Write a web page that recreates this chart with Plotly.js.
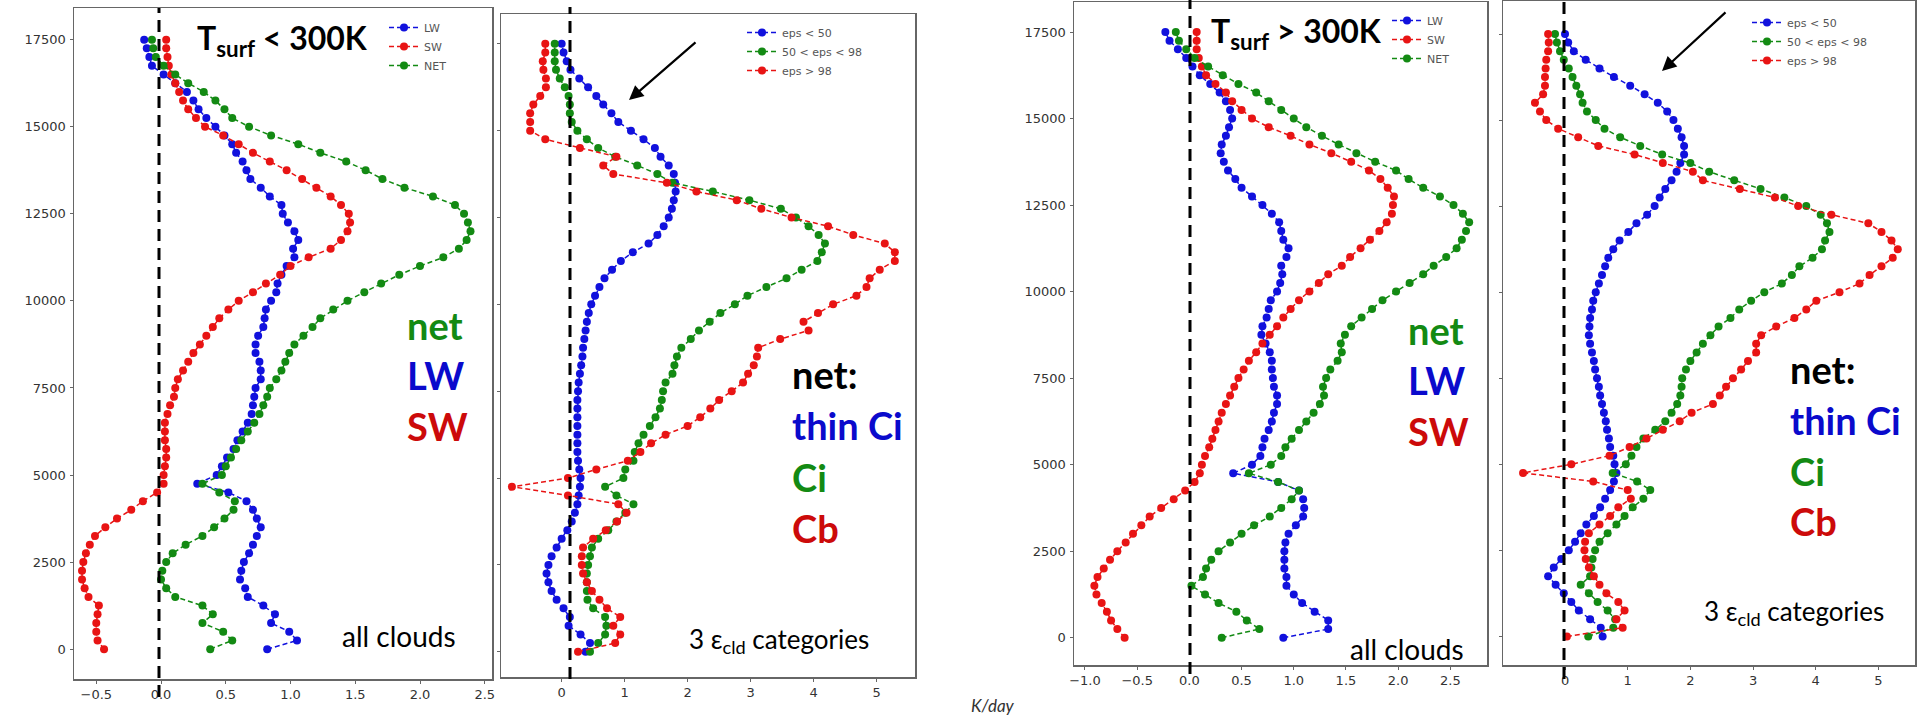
<!DOCTYPE html>
<html><head><meta charset="utf-8">
<script src="https://cdn.plot.ly/plotly-3.0.1.min.js"></script>
<style>html,body{margin:0;padding:0;background:#fff;} #chart{width:1917px;height:720px;}</style>
</head><body><div id="chart"></div>
<script>
// heights (m)
const heights = [0,250,500,750,1000,1250,1500,1750,2000,2250,
 2500,2750,3000,3250,3500,3750,4000,4250,4500,4750,
 5000,5250,5500,5750,6000,6250,6500,6750,7000,7250,
 7500,7750,8000,8250,8500,8750,9000,9250,9500,9750,
 10000,10250,10500,10750,11000,11250,11500,11750,12000,12250,
 12500,12750,13000,13250,13500,13750,14000,14250,14500,14750,
 15000,15250,15500,15750,16000,16250,16500,16750,17000,17250,
 17500];

// Panel 1: Tsurf < 300K, all clouds (K/day)
const lwCold = [0.82,1.05,0.99,0.85,0.88,0.79,0.67,0.65,0.61,0.62,
 0.64,0.68,0.71,0.74,0.77,0.74,0.71,0.66,0.52,0.28,
 0.43,0.47,0.51,0.56,0.59,0.63,0.67,0.70,0.71,0.72,
 0.73,0.77,0.77,0.76,0.73,0.73,0.75,0.79,0.80,0.81,
 0.85,0.89,0.90,0.93,0.97,1.03,1.02,1.06,1.03,0.98,
 0.94,0.93,0.84,0.77,0.69,0.66,0.63,0.58,0.55,0.49,
 0.42,0.35,0.29,0.25,0.20,0.11,0.02,-0.07,-0.09,-0.11,
 -0.13];
const swCold = [-0.44,-0.49,-0.50,-0.50,-0.49,-0.48,-0.56,-0.59,-0.61,-0.61,
 -0.60,-0.58,-0.55,-0.51,-0.43,-0.34,-0.23,-0.14,-0.03,0.02,
 0.02,0.03,0.04,0.04,0.03,0.03,0.03,0.05,0.07,0.10,
 0.11,0.13,0.17,0.21,0.25,0.30,0.35,0.40,0.45,0.52,
 0.60,0.71,0.81,0.92,1.00,1.14,1.31,1.39,1.44,1.46,
 1.45,1.39,1.31,1.20,1.09,0.97,0.84,0.71,0.60,0.48,
 0.34,0.27,0.21,0.17,0.14,0.11,0.08,0.06,0.05,0.04,
 0.04];
const netCold = [0.38,0.55,0.48,0.32,0.40,0.32,0.11,0.04,0.00,0.01,
 0.04,0.09,0.19,0.32,0.41,0.49,0.56,0.57,0.45,0.32,
 0.47,0.50,0.54,0.58,0.62,0.67,0.72,0.76,0.79,0.82,
 0.84,0.89,0.93,0.96,0.99,1.03,1.10,1.17,1.23,1.33,
 1.44,1.57,1.70,1.84,2.00,2.18,2.30,2.36,2.39,2.37,
 2.34,2.27,2.10,1.88,1.71,1.58,1.43,1.23,1.06,0.85,
 0.68,0.55,0.49,0.42,0.33,0.21,0.11,0.02,-0.04,-0.06,
 -0.07];

// Panel 2: Tsurf < 300K, net by emissivity class
const thinCiCold = [0.38,0.45,0.30,0.11,0.13,0.03,-0.08,-0.16,-0.21,-0.24,
 -0.21,-0.16,-0.08,0.00,0.09,0.16,0.21,0.25,0.27,0.29,
 0.30,0.28,0.26,0.25,0.25,0.25,0.25,0.25,0.25,0.25,
 0.26,0.27,0.29,0.31,0.33,0.34,0.36,0.38,0.40,0.43,
 0.47,0.53,0.60,0.68,0.80,0.94,1.13,1.38,1.52,1.62,
 1.70,1.75,1.78,1.81,1.80,1.78,1.70,1.57,1.48,1.30,
 1.10,0.90,0.79,0.66,0.55,0.42,0.28,0.14,0.08,0.03,
 0.00];
const ciCold = [0.45,0.58,0.69,0.71,0.69,0.50,0.41,0.40,0.40,0.40,
 0.42,0.45,0.48,0.58,0.74,0.87,1.01,1.14,0.87,0.69,
 0.98,1.01,1.14,1.16,1.22,1.30,1.40,1.49,1.56,1.59,
 1.61,1.65,1.76,1.79,1.83,1.90,2.05,2.18,2.35,2.52,
 2.75,2.95,3.25,3.57,3.81,4.06,4.13,4.18,4.08,3.92,
 3.72,3.48,2.98,2.40,1.76,1.52,1.20,0.85,0.58,0.40,
 0.25,0.16,0.13,0.13,0.11,0.05,-0.03,-0.09,-0.11,-0.11,
 -0.11];
const cbCold = [0.26,0.85,0.93,0.82,0.93,0.72,0.60,0.48,0.40,0.34,
 0.32,0.32,0.34,0.50,0.70,0.88,1.03,0.90,0.10,-0.79,
 0.10,0.55,1.05,1.25,1.42,1.65,2.00,2.20,2.36,2.50,
 2.70,2.88,2.96,3.05,3.10,3.12,3.47,3.92,3.84,4.07,
 4.31,4.68,4.84,4.89,5.05,5.29,5.29,5.13,4.63,4.23,
 3.65,3.17,2.78,2.14,1.67,0.82,0.66,0.87,0.29,-0.26,
 -0.50,-0.50,-0.50,-0.45,-0.34,-0.25,-0.25,-0.29,-0.30,-0.26,
 -0.26];

// Panel 3: Tsurf > 300K, all clouds
const lwWarm = [0.90,1.33,1.33,1.20,1.08,1.00,0.93,0.93,0.91,0.91,
 0.91,0.92,0.95,1.02,1.09,1.10,1.09,1.05,0.85,0.42,
 0.60,0.68,0.70,0.72,0.76,0.79,0.81,0.84,0.84,0.81,
 0.80,0.79,0.79,0.77,0.73,0.69,0.70,0.74,0.76,0.78,
 0.84,0.87,0.89,0.88,0.93,0.95,0.90,0.88,0.86,0.79,
 0.70,0.60,0.50,0.44,0.37,0.33,0.30,0.31,0.35,0.38,
 0.41,0.39,0.35,0.29,0.20,0.10,0.03,-0.03,-0.11,-0.19,
 -0.23];
const swWarm = [-0.62,-0.69,-0.75,-0.79,-0.84,-0.89,-0.91,-0.88,-0.82,-0.76,
 -0.69,-0.61,-0.54,-0.46,-0.38,-0.27,-0.15,-0.04,0.05,0.10,
 0.12,0.15,0.19,0.22,0.25,0.28,0.31,0.35,0.39,0.43,
 0.47,0.52,0.57,0.64,0.70,0.77,0.84,0.90,0.97,1.05,
 1.15,1.24,1.33,1.46,1.54,1.64,1.73,1.82,1.89,1.94,
 1.95,1.96,1.90,1.83,1.72,1.55,1.36,1.15,0.97,0.76,
 0.60,0.50,0.41,0.35,0.25,0.16,0.12,0.09,0.07,0.07,
 0.07];
const netWarm = [0.31,0.67,0.55,0.45,0.28,0.15,0.02,0.13,0.16,0.21,
 0.28,0.39,0.50,0.62,0.77,0.88,0.98,1.05,0.85,0.57,
 0.78,0.88,0.92,0.98,1.05,1.12,1.19,1.25,1.29,1.28,
 1.31,1.35,1.42,1.46,1.45,1.49,1.55,1.65,1.75,1.85,
 1.98,2.11,2.24,2.34,2.46,2.56,2.61,2.65,2.68,2.62,
 2.53,2.40,2.24,2.10,1.98,1.78,1.60,1.43,1.27,1.12,
 1.00,0.88,0.76,0.64,0.47,0.32,0.18,0.05,-0.03,-0.10,
 -0.13];

// Panel 4: Tsurf > 300K, net by emissivity class
const thinCiWarm = [0.60,0.57,0.40,0.22,0.10,-0.02,-0.15,-0.27,-0.18,-0.06,
 0.06,0.16,0.25,0.34,0.46,0.56,0.64,0.72,0.78,0.82,
 0.79,0.77,0.72,0.70,0.67,0.65,0.62,0.59,0.56,0.54,
 0.51,0.48,0.46,0.43,0.40,0.38,0.39,0.40,0.43,0.45,
 0.49,0.54,0.59,0.64,0.69,0.77,0.87,1.01,1.14,1.31,
 1.43,1.51,1.60,1.70,1.78,1.84,1.90,1.90,1.86,1.80,
 1.73,1.63,1.48,1.27,1.04,0.78,0.55,0.33,0.14,0.05,
 0.00];
const ciWarm = [0.37,0.77,0.80,0.68,0.52,0.38,0.25,0.40,0.42,0.44,
 0.48,0.55,0.68,0.82,0.95,1.08,1.25,1.36,1.15,0.76,
 0.97,1.06,1.14,1.25,1.44,1.60,1.70,1.79,1.84,1.86,
 1.87,1.93,2.00,2.10,2.20,2.32,2.45,2.64,2.78,2.97,
 3.18,3.46,3.62,3.74,3.95,4.10,4.15,4.22,4.18,4.08,
 3.85,3.50,3.12,2.70,2.30,2.00,1.55,1.20,0.88,0.63,
 0.49,0.35,0.28,0.24,0.18,0.12,0.06,-0.02,-0.08,-0.13,
 -0.16];
const cbWarm = [0.03,0.92,0.82,0.95,0.85,0.66,0.55,0.46,0.38,0.33,
 0.31,0.32,0.38,0.55,0.72,0.85,1.05,1.00,0.45,-0.67,
 0.10,0.71,1.03,1.30,1.56,1.83,2.02,2.36,2.47,2.57,
 2.68,2.81,2.92,3.05,3.05,3.13,3.37,3.66,3.85,4.01,
 4.38,4.70,4.86,5.05,5.23,5.31,5.21,5.05,4.84,4.25,
 3.72,3.35,2.79,2.20,2.04,1.56,1.11,0.53,0.21,-0.11,
 -0.30,-0.40,-0.48,-0.35,-0.32,-0.32,-0.31,-0.30,-0.27,-0.26,
 -0.27];

const names13 = ['LW','SW','NET'];
const names24 = ['eps &lt; 50','50 &lt; eps &lt; 98','eps &gt; 98'];

const BLUE = '#1111dd', RED = '#e81414', GREEN = '#138a13';
const W = 1917, H = 720;
const px = v => v / W;
const py = v => 1 - v / H;

function tr(x, name, color, ax, lg) {
  return {
    type: 'scatter', mode: 'lines+markers', x: x, y: heights, name: name,
    xaxis: 'x' + ax, yaxis: 'y' + ax, legend: lg,
    line: {color: color, width: 1.5, dash: '5px,3px'},
    marker: {color: color, size: 8}
  };
}
const data = [
  tr(lwCold, names13[0], BLUE, '', 'legend'),
  tr(swCold, names13[1], RED, '', 'legend'),
  tr(netCold, names13[2], GREEN, '', 'legend'),
  tr(thinCiCold, names24[0], BLUE, '2', 'legend2'),
  tr(ciCold, names24[1], GREEN, '2', 'legend2'),
  tr(cbCold, names24[2], RED, '2', 'legend2'),
  tr(lwWarm, names13[0], BLUE, '3', 'legend3'),
  tr(swWarm, names13[1], RED, '3', 'legend3'),
  tr(netWarm, names13[2], GREEN, '3', 'legend3'),
  tr(thinCiWarm, names24[0], BLUE, '4', 'legend4'),
  tr(ciWarm, names24[1], GREEN, '4', 'legend4'),
  tr(cbWarm, names24[2], RED, '4', 'legend4')
];

const tickFont = {family: 'DejaVu Sans', size: 13, color: '#333'};
function xax(dom, range, anchor, dtick, fmt) {
  return {domain: dom, range: range, anchor: anchor, dtick: dtick, tick0: 0, tickformat: fmt,
    showline: true, mirror: true, linecolor: '#666', linewidth: 1.5,
    ticks: 'outside', ticklen: 3, tickcolor: '#666', showgrid: false, zeroline: false,
    tickfont: tickFont, fixedrange: true};
}
function yax(dom, range, anchor, labels) {
  return {domain: dom, range: range, anchor: anchor, dtick: 2500, tick0: 0, tickformat: 'd',
    showline: true, mirror: true, linecolor: '#666', linewidth: 1.5,
    ticks: 'outside', ticklen: 3, tickcolor: '#666', showgrid: false, zeroline: false,
    showticklabels: labels, ticklabelstandoff: 1, tickfont: tickFont, fixedrange: true};
}
function leg(x, y) {
  return {x: px(x), y: py(y), xanchor: 'left', yanchor: 'top', bgcolor: 'rgba(0,0,0,0)',
    font: {family: 'DejaVu Sans', size: 11, color: '#555'}, tracegroupgap: 0, itemwidth: 30};
}
const bigFont = (c, s) => ({family: 'Lato', size: s || 38, color: c});
function txt(t, x, y, font, xa) {
  return {text: t, x: px(x), y: py(y), xref: 'paper', yref: 'paper', showarrow: false,
    xanchor: xa || 'left', yanchor: 'middle', font: font};
}
function arrow(hx, hy, tx, ty) {
  return {text: '', x: px(hx), y: py(hy), xref: 'paper', yref: 'paper', showarrow: true,
    ax: tx - hx, ay: ty - hy, axref: 'pixel', ayref: 'pixel', arrowhead: 2, arrowsize: 1.3,
    arrowwidth: 2.2, arrowcolor: '#000', standoff: 0};
}
function vdash(x, y0, y1) {
  return {type: 'line', xref: 'paper', yref: 'paper', x0: px(x), x1: px(x), y0: py(y1), y1: py(y0),
    line: {color: '#000', width: 3, dash: '12px,7px'}, layer: 'above'};
}

const layout = {
  width: W, height: H, margin: {l: 0, r: 0, t: 0, b: 0},
  paper_bgcolor: '#fff', plot_bgcolor: '#fff', showlegend: true,
  xaxis: xax([px(74), px(492)], [-0.672, 2.556], 'y', 0.5, '.1f'),
  yaxis: yax([py(679), py(8)], [-857, 18409], 'x', true),
  xaxis2: xax([px(501), px(915)], [-0.963, 5.61], 'y2', 1, 'd'),
  yaxis2: yax([py(677), py(14)], [-726, 18358], 'x2', false),
  xaxis3: xax([px(1074), px(1487)], [-1.105, 2.851], 'y3', 0.5, '.1f'),
  yaxis3: yax([py(665), py(2)], [-789, 18367], 'x3', true),
  xaxis4: xax([px(1503), px(1915)], [-0.99, 5.585], 'y4', 1, 'd'),
  yaxis4: yax([py(665), py(1)], [-831, 18459], 'x4', false),
  legend: leg(384, 13),
  legend2: leg(742, 18),
  legend3: leg(1387, 6),
  legend4: leg(1747, 8),
  shapes: [vdash(159, 8, 697), vdash(570, 7, 679), vdash(1190, 0, 674), vdash(1564, 0, 679)],
  annotations: [
    txt('<b>T<sub>surf</sub> &lt; 300K</b>', 282, 40, bigFont('#000', 32), 'center'),
    txt('<b>T<sub>surf</sub> &gt; 300K</b>', 1296, 33, bigFont('#000', 32), 'center'),
    txt('<b>net</b>', 405, 325, bigFont(GREEN)),
    txt('<b>LW</b>', 405, 375, bigFont('#0a0acc')),
    txt('<b>SW</b>', 405, 426, bigFont('#cc0a0a')),
    txt('<b>net</b>', 1406, 330, bigFont(GREEN)),
    txt('<b>LW</b>', 1406, 380, bigFont('#0a0acc')),
    txt('<b>SW</b>', 1406, 431, bigFont('#cc0a0a')),
    txt('<b>net:</b>', 790, 374, bigFont('#000')),
    txt('<b>thin Ci</b>', 790, 425, bigFont('#0a0acc')),
    txt('<b>Ci</b>', 790, 477, bigFont(GREEN)),
    txt('<b>Cb</b>', 790, 528, bigFont('#cc0a0a')),
    txt('<b>net:</b>', 1788, 369, bigFont('#000')),
    txt('<b>thin Ci</b>', 1788, 420, bigFont('#0a0acc')),
    txt('<b>Ci</b>', 1788, 471, bigFont(GREEN)),
    txt('<b>Cb</b>', 1788, 521, bigFont('#cc0a0a')),
    txt('all clouds', 399, 636, bigFont('#000', 28), 'center'),
    txt('all clouds', 1407, 649, bigFont('#000', 28), 'center'),
    txt('3 ε<sub>cld</sub> categories', 779, 640, bigFont('#000', 26), 'center'),
    txt('3 ε<sub>cld</sub> categories', 1794, 612, bigFont('#000', 26), 'center'),
    txt('<i>K/day</i>', 993, 705, {family: 'Lato', size: 17, color: '#333'}, 'center'),
    arrow(629, 100, 697, 41),
    arrow(1662, 71, 1727, 11)
  ]
};

Plotly.newPlot('chart', data, layout, {displayModeBar: false, staticPlot: true});
</script>
</body></html>
